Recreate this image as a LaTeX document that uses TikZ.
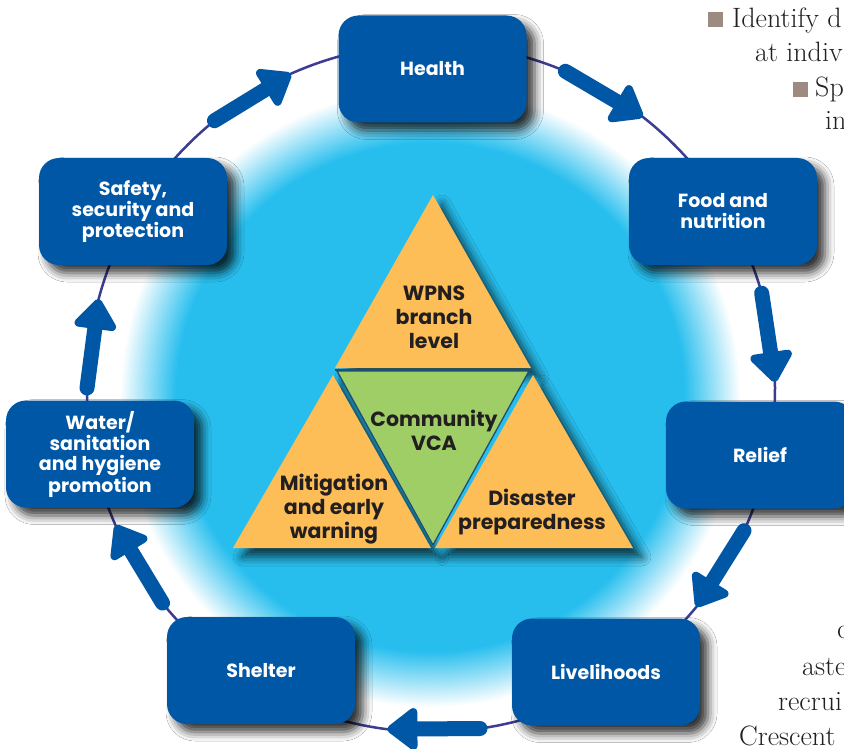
\documentclass[tikz,border=0pt]{standalone}
\usepackage{fontspec}
\setsansfont{Poppins}
\usetikzlibrary{arrows.meta,shadows.blur}
\definecolor{boxblue}{HTML}{0057A5}
\definecolor{ringc}{HTML}{3C3D90}
\definecolor{skyc}{HTML}{27BEEE}
\definecolor{orng}{HTML}{FDBE58}
\definecolor{grn}{HTML}{A0CE66}
\definecolor{edgec}{HTML}{1D4E78}
\definecolor{inkc}{HTML}{231F20}
\definecolor{bulc}{HTML}{9D8B81}
\pgfdeclareradialshading{glow}{\pgfpoint{0bp}{0bp}}{color(0bp)=(skyc); color(20.5bp)=(skyc); color(25bp)=(white); color(50bp)=(white)}
\tikzset{
  boxnode/.style={rectangle, rounded corners=20pt, minimum width=188pt, minimum height=107pt,
    fill=boxblue, text=white, align=center, inner sep=2pt,
    font=\sffamily\bfseries\fontsize{19}{21}\selectfont,
    blur shadow={shadow xshift=8pt, shadow yshift=-8pt, shadow blur radius=9pt, shadow opacity=80}},
  tritext/.style={text=inkc, align=center, inner sep=0pt,
    font=\sffamily\bfseries\fontsize{20.5}{24}\selectfont},
  trishadow/.style={blur shadow={shadow xshift=9pt, shadow yshift=-9pt, shadow blur radius=9pt, shadow opacity=70}},
  flowarrow/.style={draw=boxblue, line width=15pt, line cap=round,
    -{Triangle[length=33pt,width=48pt,line width=10pt,round]}},
  pagetext/.style={text=inkc, inner sep=0pt, anchor=base west,
    font=\rmfamily\fontsize{28}{34}\selectfont},
}
\begin{document}
\begin{tikzpicture}[x=1pt,y=-1pt]
\useasboundingbox (0,0) rectangle (844,749);
\clip (0,0) rectangle (844,749);
\fill[white] (0,0) rectangle (844,749);
% glow
\shade[shading=glow] (430,397) circle[radius=310];
% ring
\coordinate (ctr) at (431,388);
\draw[ringc, line width=2.5pt] (ctr) circle[radius=344];
% triangles
\fill[orng, trishadow] (433,195) -- (531,368) -- (335,368) -- cycle;
\fill[orng, trishadow] (333,375) -- (431,548) -- (233,548) -- cycle;
\fill[orng, trishadow] (533,375) -- (633,548) -- (435,548) -- cycle;
\draw[edgec, line width=2pt] (335,369.5) -- (531,369.5);
\filldraw[fill=grn, draw=edgec, line width=1.3pt, line join=round] (337,371) -- (529,371) -- (433,545) -- cycle;
\node[tritext] (wpns) at (434,317) {WPNS\\branch\\level};
\node[tritext] (vca) at (434,430) {Community\\VCA};
\node[tritext] (mitig) at (334,509) {Mitigation\\and early\\warning};
\node[tritext] (prep) at (532,512) {Disaster\\preparedness};
% arrows
\coordinate (a1s) at (214.5,120.7); \coordinate (a1e) at (291,73.8);
\coordinate (a2s) at (565.4,71.3);  \coordinate (a2e) at (642.8,116.9);
\coordinate (a3s) at (761.7,293.2); \coordinate (a3e) at (775,382);
\coordinate (a4s) at (744,530.7);   \coordinate (a4e) at (696.4,606.8);
\coordinate (a5s) at (480,728.5);   \coordinate (a5e) at (387.3,729.2);
\coordinate (a6s) at (162.5,603);   \coordinate (a6e) at (115.5,525.2);
\coordinate (a7s) at (87,388);      \coordinate (a7e) at (98.7,299);
\foreach \k in {1,...,7}{\draw[flowarrow] (a\k s) -- (a\k e);}
% boxes
\node[boxnode] (health) at (432.5,69) {Health};
\node[boxnode] (food) at (723,211.5) {Food and\\nutrition};
\node[boxnode] (relief) at (760,455) {Relief};
\node[boxnode] (liveli) at (606,672) {Livelihoods};
\node[boxnode] (shelter) at (261,670.5) {Shelter};
\node[boxnode] (water) at (100,454) {Water/\\sanitation\\and hygiene\\promotion};
\node[boxnode] (safety) at (133,211.5) {Safety,\\security and\\protection};
% page text fragments
\fill[bulc] (708,12) rectangle (723,27);
\fill[bulc] (793,82) rectangle (808,97);
\node[pagetext] (t1) at (732,28) {Identify d};
\node[pagetext] (t2) at (755,62) {at indiv};
\node[pagetext] (t3) at (815,97) {Sp};
\node[pagetext] (t4) at (825,130) {in};
\node[pagetext] (t5) at (837,638) {c};
\node[pagetext] (t6) at (802,675) {aste};
\node[pagetext] (t7) at (778,710) {recrui};
\node[pagetext] (t8) at (739,745) {Crescent};
\end{tikzpicture}
\end{document}
